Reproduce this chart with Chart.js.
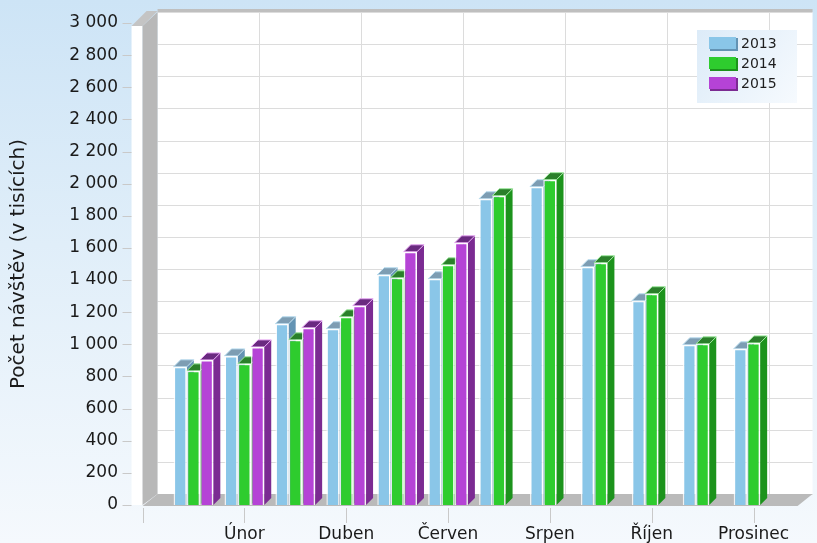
<!DOCTYPE html>
<html>
<head>
<meta charset="utf-8">
<script src="https://cdn.jsdelivr.net/npm/chart.js@4"></script>
<style>
  html, body { margin: 0; padding: 0; }
  body {
    width: 817px; height: 543px; overflow: hidden;
    background: linear-gradient(to bottom, #cde4f6 0%, #e0eef9 45%, #f5f9fd 100%);
  }
</style>
</head>
<body>
<canvas id="chart" width="817" height="543"></canvas>
<script>
// data (thousands of visits)
const MONTHS = ['Leden', 'Únor', 'Březen', 'Duben', 'Květen', 'Červen', 'Červenec', 'Srpen', 'Září', 'Říjen', 'Listopad', 'Prosinec'];
const YEARS = ['2013', '2014', '2015'];
const V2013 = [860, 928, 1128, 1097, 1433, 1408, 1906, 1981, 1483, 1271, 997, 972];
const V2014 = [835, 879, 1028, 1171, 1414, 1495, 1925, 2025, 1508, 1315, 1003, 1009];
const V2015 = [903, 984, 1103, 1240, 1576, 1632, null, null, null, null, null, null];
const Y_MIN = 0, Y_MAX = 3000, Y_STEP = 200;
const Y_TITLE = 'Počet návštěv (v tisících)';

const FONT = 'DejaVu Sans';
const BAR_D = 7;              // bar depth offset
const WALL_DX = 15, WALL_DY = 11;

const fmt = v => String(v).replace(/\B(?=(\d{3})+(?!\d))/g, ' ');

// back wall, left wall, floor, grid
const frame = {
  id: 'frame',
  beforeDraw(chart) {
    const {ctx, scales: {x, y}} = chart;
    const cw = x.getPixelForValue(1) - x.getPixelForValue(0);
    const fl = x.getPixelForValue(0) - cw;
    const fr = x.getPixelForValue(MONTHS.length - 1) + 44;
    const top = y.getPixelForValue(Y_MAX), bot = y.getPixelForValue(Y_MIN);
    ctx.save();
    // back wall
    ctx.fillStyle = '#ffffff';
    ctx.fillRect(fl + WALL_DX, top - WALL_DY, fr - fl, bot - top);
    ctx.strokeStyle = '#dcdcdc';
    ctx.lineWidth = 1;
    for (let v = Y_MIN; v <= Y_MAX; v += Y_STEP) {
      const py = Math.round(y.getPixelForValue(v) - WALL_DY) + 0.5;
      ctx.beginPath();
      ctx.moveTo(fl + WALL_DX, py);
      ctx.lineTo(fr + WALL_DX, py);
      ctx.stroke();
    }
    for (let i = 1; i < MONTHS.length; i += 2) {
      const px = Math.round(x.getPixelForValue(i) + WALL_DX) + 0.5;
      ctx.beginPath();
      ctx.moveTo(px, top - WALL_DY);
      ctx.lineTo(px, bot - WALL_DY);
      ctx.stroke();
    }
    // top edge of wall
    ctx.fillStyle = '#bfbfbf';
    ctx.fillRect(fl + WALL_DX, top - WALL_DY - 3, fr - fl, 3);
    // left wall
    ctx.fillStyle = '#ffffff';
    ctx.fillRect(fl - 11, top + 3, 11, bot - top - 3);
    ctx.fillStyle = '#b8b8b8';
    ctx.beginPath();
    ctx.moveTo(fl, top + 3);
    ctx.lineTo(fl + WALL_DX, top - WALL_DY);
    ctx.lineTo(fl + WALL_DX, bot - WALL_DY);
    ctx.lineTo(fl, bot);
    ctx.closePath();
    ctx.fill();
    ctx.fillStyle = '#c4c4c4';
    ctx.beginPath();
    ctx.moveTo(fl - 11, top + 3);
    ctx.lineTo(fl + 4, top - WALL_DY - 1);
    ctx.lineTo(fl + WALL_DX, top - WALL_DY - 1);
    ctx.lineTo(fl, top + 3);
    ctx.closePath();
    ctx.fill();
    // floor
    ctx.fillStyle = '#bababa';
    ctx.beginPath();
    ctx.moveTo(fl, bot + 1);
    ctx.lineTo(fr, bot + 1);
    ctx.lineTo(fr + WALL_DX, bot - WALL_DY);
    ctx.lineTo(fl + WALL_DX, bot - WALL_DY);
    ctx.closePath();
    ctx.fill();
    // tick marks
    ctx.strokeStyle = '#c9c9c9';
    for (let v = Y_MIN; v <= Y_MAX; v += Y_STEP) {
      const py = Math.round(y.getPixelForValue(v)) + 0.5;
      ctx.beginPath();
      ctx.moveTo(fl - 20, py);
      ctx.lineTo(fl - 11, py);
      ctx.stroke();
    }
    const xt = [fl];
    for (let i = 1; i < MONTHS.length; i += 2) xt.push(x.getPixelForValue(i));
    xt.forEach(px => {
      px = Math.round(px) + 0.5;
      ctx.beginPath();
      ctx.moveTo(px, bot + 3);
      ctx.lineTo(px, bot + 18);
      ctx.stroke();
    });
    ctx.restore();
  }
};

// side and top faces of the bars
const bars3d = {
  id: 'bars3d',
  beforeDatasetsDraw(chart) {
    const ctx = chart.ctx;
    ctx.save();
    for (let i = 0; i < MONTHS.length; i++) {
      chart.data.datasets.forEach((ds, di) => {
        const bar = chart.getDatasetMeta(di).data[i];
        if (!bar || ds.data[i] == null) return;
        const {x, y, base, width} = bar.getProps(['x', 'y', 'base', 'width'], true);
        const l = x - width / 2, r = x + width / 2;
        ctx.fillStyle = ds.sideColor;
        ctx.beginPath();
        ctx.moveTo(r, y);
        ctx.lineTo(r + BAR_D, y - BAR_D);
        ctx.lineTo(r + BAR_D, base - BAR_D);
        ctx.lineTo(r, base);
        ctx.closePath();
        ctx.fill();
        ctx.fillStyle = ds.topColor;
        ctx.strokeStyle = ds.edgeColor;
        ctx.lineWidth = 1;
        ctx.beginPath();
        ctx.moveTo(l, y);
        ctx.lineTo(l + BAR_D, y - BAR_D);
        ctx.lineTo(r + BAR_D, y - BAR_D);
        ctx.lineTo(r, y);
        ctx.closePath();
        ctx.fill();
        ctx.stroke();
      });
    }
    ctx.restore();
  }
};

// legend box in the top right corner
const legendBox = {
  id: 'legendBox',
  afterDraw(chart) {
    const {ctx, chartArea} = chart;
    const lx = chartArea.right - 82, ly = 30, lw = 100, lh = 73;
    ctx.save();
    const g = ctx.createLinearGradient(lx, ly, lx + lw, ly + lh);
    g.addColorStop(0, '#dcebf8');
    g.addColorStop(1, '#f6fafe');
    ctx.fillStyle = g;
    ctx.fillRect(lx, ly, lw, lh);
    ctx.font = '14px "' + FONT + '"';
    ctx.textBaseline = 'middle';
    chart.data.datasets.forEach((ds, i) => {
      const cy = ly + 14 + i * 20;
      ctx.fillStyle = ds.sideColor;
      ctx.fillRect(lx + 13, cy - 6, 28, 13);
      ctx.fillStyle = ds.backgroundColor;
      ctx.fillRect(lx + 12, cy - 7, 27, 12);
      ctx.fillStyle = '#1e1e1e';
      ctx.fillText(ds.label, lx + 44, cy);
    });
    ctx.restore();
  }
};

new Chart(document.getElementById('chart'), {
  type: 'bar',
  data: {
    labels: MONTHS,
    datasets: [
      {label: YEARS[0], data: V2013, backgroundColor: '#8ac6e8', sideColor: '#6393b3', topColor: '#7d9db3', edgeColor: '#b9dcef'},
      {label: YEARS[1], data: V2014, backgroundColor: '#2ecc2e', sideColor: '#1c931c', topColor: '#2a802a', edgeColor: '#9ee89e'},
      {label: YEARS[2], data: V2015, backgroundColor: '#b543d6', sideColor: '#7b2b92', topColor: '#6a2a80', edgeColor: '#e6a6f2'}
    ].map(d => Object.assign(d, {
      borderColor: 'rgba(255,255,255,0.8)',
      borderWidth: 1.5,
      categoryPercentage: 0.78,
      barPercentage: 1
    }))
  },
  options: {
    responsive: false,
    animation: false,
    layout: {padding: {top: 23, right: 38, bottom: 0, left: 0}},
    plugins: {legend: {display: false}, tooltip: {enabled: false}},
    scales: {
      x: {
        offset: true,
        grid: {display: false, drawTicks: false, tickLength: 0},
        border: {display: false},
        ticks: {
          autoSkip: false,
          maxRotation: 0,
          padding: 19,
          color: '#1a1a1a',
          font: {family: FONT, size: 17},
          callback: (v, i) => i % 2 === 1 ? MONTHS[i] : ''
        },
        afterFit: s => { s.height = 38; s.paddingLeft = 0; s.paddingRight = 0; }
      },
      y: {
        min: Y_MIN,
        max: Y_MAX,
        grid: {display: false, drawTicks: false, tickLength: 0},
        border: {display: false},
        ticks: {
          stepSize: Y_STEP,
          padding: 50,
          color: '#1a1a1a',
          font: {family: FONT, size: 17},
          callback: v => fmt(v)
        },
        title: {
          display: true,
          text: Y_TITLE,
          color: '#1a1a1a',
          font: {family: FONT, size: 20},
          padding: {top: 7, bottom: 0}
        },
        afterFit: s => { s.width = 168; s.paddingTop = 0; s.paddingBottom = 0; }
      }
    }
  },
  plugins: [frame, bars3d, legendBox]
});
</script>
</body>
</html>
